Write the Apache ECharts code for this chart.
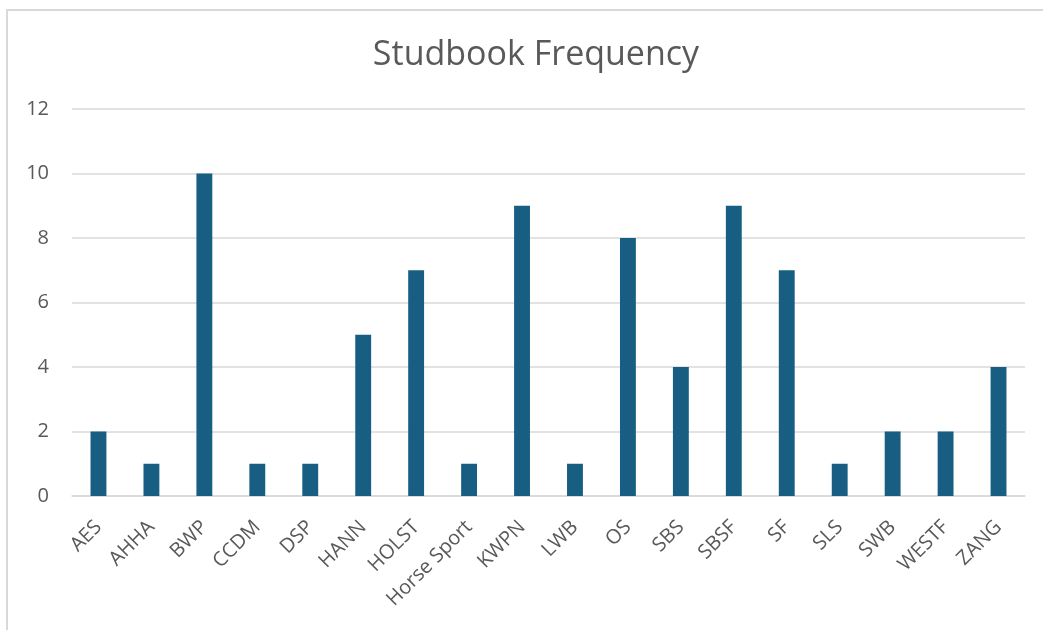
<!DOCTYPE html>
<html><head><meta charset="utf-8">
<script src="https://cdn.jsdelivr.net/npm/echarts@6/dist/echarts.min.js"></script>
<style>
html,body{margin:0;padding:0;background:#fff;}
#frame{position:absolute;left:6px;top:9px;width:1100px;height:700px;border-left:2px solid #d9d9d9;border-top:2px solid #d9d9d9;box-sizing:border-box;}
#c{position:absolute;left:0;top:0;width:1043px;height:630px;}
</style></head>
<body>
<div id="frame"></div>
<div id="c"></div>
<script>
const categories = ["AES","AHHA","BWP","CCDM","DSP","HANN","HOLST","Horse Sport","KWPN","LWB","OS","SBS","SBSF","SF","SLS","SWB","WESTF","ZANG"];
const counts = [2,1,10,1,1,5,7,1,9,1,8,4,9,7,1,2,2,4];
const yTicks = {min:0, max:12, interval:2};

const chart = echarts.init(document.getElementById('c'), null, {renderer:'canvas'});
chart.setOption({
  backgroundColor:'transparent',
  animation:false,
  title:{
    text:'Studbook Frequency', left:531, top:33, textAlign:'center',
    textStyle:{fontFamily:'Open Sans, Liberation Sans, sans-serif', fontSize:34, fontWeight:'normal', color:'#595959'}
  },
  grid:{left:72, right:18, top:109, bottom:134, containLabel:false},
  xAxis:{
    type:'category', data:categories,
    axisLine:{lineStyle:{color:'#d9d9d9', width:1.5}},
    axisTick:{show:false},
    axisLabel:{rotate:45, interval:0, fontSize:20, color:'#595959', fontFamily:'Open Sans, Liberation Sans, sans-serif', margin:28}
  },
  yAxis:{
    type:'value', min:yTicks.min, max:yTicks.max, interval:yTicks.interval,
    axisLine:{show:false}, axisTick:{show:false},
    splitLine:{lineStyle:{color:'#d9d9d9', width:1.5}},
    axisLabel:{fontSize:20, color:'#595959', fontFamily:'Open Sans, Liberation Sans, sans-serif', margin:23}
  },
  series:[{
    type:'bar', data:counts, barWidth:'30%',
    itemStyle:{color:'#175e82'}
  }]
});
</script>
</body></html>
